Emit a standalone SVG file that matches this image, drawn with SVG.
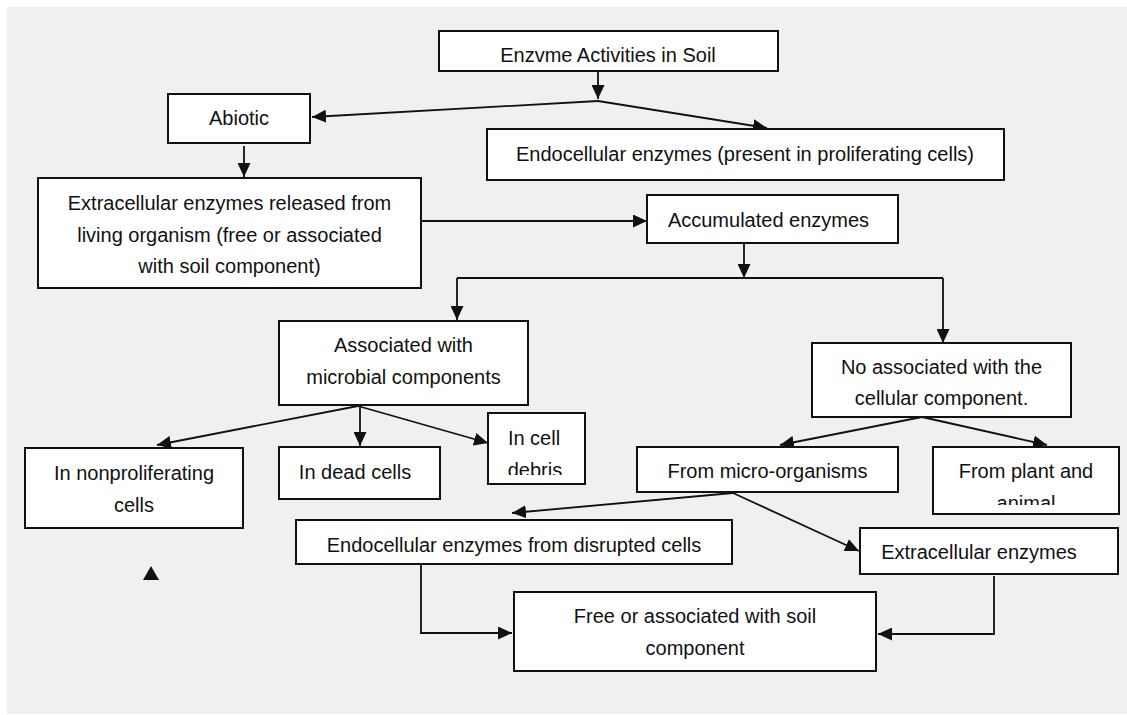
<svg xmlns="http://www.w3.org/2000/svg" width="1127" height="715" viewBox="0 0 1127 715">
<style>
.box{fill:#fff;stroke:#111;stroke-width:2}
.t{font-family:"Liberation Sans",Arial,sans-serif;font-size:20px;fill:#111;text-anchor:middle}
.c{fill:none;stroke:#111;stroke-width:1.8}
</style>
<defs>
<marker id="ah" markerUnits="userSpaceOnUse" markerWidth="15" markerHeight="13" refX="14" refY="6.5" orient="auto">
<path d="M0,0 L14,6.5 L0,13 z" fill="#111"/>
</marker>
<clipPath id="clipDebris"><rect x="488" y="413" width="97" height="62"/></clipPath>
<clipPath id="clipAnimal"><rect x="933" y="447" width="186" height="58"/></clipPath>
</defs>
<rect x="7" y="7" width="1120" height="707" fill="#f0f0f0"/>

<g id="connectors">
<path class="c" d="M598,71 V99" marker-end="url(#ah)"/>
<path class="c" d="M598,101 L312,117" marker-end="url(#ah)"/>
<path class="c" d="M598,101 L767,128" marker-end="url(#ah)"/>
<path class="c" d="M244,146 V177" marker-end="url(#ah)"/>
<path class="c" d="M421,221 H647" marker-end="url(#ah)"/>
<path class="c" d="M744,243 V278" marker-end="url(#ah)"/>
<path class="c" d="M457,278 H943"/>
<path class="c" d="M457,278 V320" marker-end="url(#ah)"/>
<path class="c" d="M943,278 V343" marker-end="url(#ah)"/>
<path class="c" d="M358,406 L157,445" marker-end="url(#ah)"/>
<path class="c" d="M360,406 V446" marker-end="url(#ah)"/>
<path class="c" d="M358,406 L488,443" marker-end="url(#ah)"/>
<path class="c" d="M922,417 L780,445" marker-end="url(#ah)"/>
<path class="c" d="M922,417 L1047,445" marker-end="url(#ah)"/>
<path class="c" d="M733,493 L512,513" marker-end="url(#ah)"/>
<path class="c" d="M733,493 L859,551" marker-end="url(#ah)"/>
<path class="c" d="M421,564 V633 H512" marker-end="url(#ah)"/>
<path class="c" d="M994,576 V634 H878" marker-end="url(#ah)"/>
<path d="M143,580 L159,580 L151,566 z" fill="#111"/>
</g>

<g id="n-enzyme">
<rect class="box" x="439" y="31" width="339" height="40"/>
<text class="t" x="608" y="62">Enzvme Activities in Soil</text>
</g>
<g id="n-abiotic">
<rect class="box" x="168" y="94" width="142" height="49"/>
<text class="t" x="239" y="125">Abiotic</text>
</g>
<g id="n-endocellular">
<rect class="box" x="487" y="129" width="517" height="51"/>
<text class="t" x="745" y="161">Endocellular enzymes (present in proliferating cells)</text>
</g>
<g id="n-extracellular-released">
<rect class="box" x="38" y="178" width="383" height="110"/>
<text class="t" x="229.5" y="210">Extracellular enzymes released from</text>
<text class="t" x="229.5" y="241.5">living organism (free or associated</text>
<text class="t" x="229.5" y="273">with soil component)</text>
</g>
<g id="n-accumulated">
<rect class="box" x="647" y="195" width="251" height="48"/>
<text class="t" x="768.5" y="227">Accumulated enzymes</text>
</g>
<g id="n-associated">
<rect class="box" x="279" y="321" width="249" height="84"/>
<text class="t" x="403.5" y="352">Associated with</text>
<text class="t" x="403.5" y="383.5">microbial components</text>
</g>
<g id="n-not-associated">
<rect class="box" x="812" y="343" width="259" height="74"/>
<text class="t" x="941.5" y="373.5">No associated with the</text>
<text class="t" x="941.5" y="405">cellular component.</text>
</g>
<g id="n-nonproliferating">
<rect class="box" x="25" y="448" width="218" height="80"/>
<text class="t" x="134" y="480">In nonproliferating</text>
<text class="t" x="134" y="512">cells</text>
</g>
<g id="n-dead-cells">
<rect class="box" x="279" y="447" width="161" height="52"/>
<text class="t" x="355" y="479">In dead cells</text>
</g>
<g id="n-cell-debris">
<rect class="box" x="488" y="413" width="97" height="71"/>
<g clip-path="url(#clipDebris)">
<text class="t" x="534" y="445">In cell</text>
<text class="t" x="535" y="477">debris</text>
</g>
</g>
<g id="n-micro-organisms">
<rect class="box" x="637" y="447" width="261" height="45"/>
<text class="t" x="767.5" y="478">From micro-organisms</text>
</g>
<g id="n-plant-animal">
<rect class="box" x="933" y="447" width="186" height="67"/>
<g clip-path="url(#clipAnimal)">
<text class="t" x="1026" y="478">From plant and</text>
<text class="t" x="1026" y="510">animal</text>
</g>
</g>
<g id="n-disrupted">
<rect class="box" x="296" y="520" width="436" height="44"/>
<text class="t" x="514" y="552">Endocellular enzymes from disrupted cells</text>
</g>
<g id="n-extracellular">
<rect class="box" x="860" y="528" width="258" height="46"/>
<text class="t" x="979" y="559">Extracellular enzymes</text>
</g>
<g id="n-free">
<rect class="box" x="514" y="592" width="362" height="79"/>
<text class="t" x="695" y="623">Free or associated with soil</text>
<text class="t" x="695" y="655">component</text>
</g>
</svg>
